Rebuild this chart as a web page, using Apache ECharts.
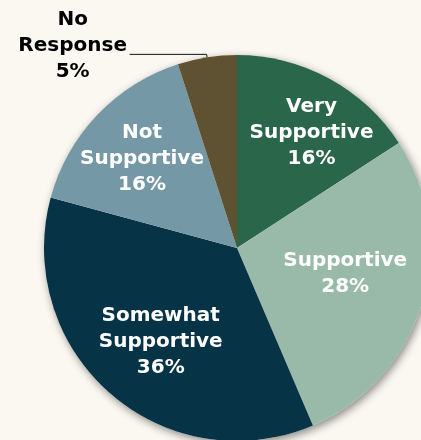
<!DOCTYPE html>
<html>
<head>
<meta charset="utf-8">
<script src="https://cdn.jsdelivr.net/npm/echarts@6/dist/echarts.min.js"></script>
<style>
  html, body { margin: 0; padding: 0; background: #FBF8F1; }
  #chart { width: 421px; height: 440px; }
</style>
</head>
<body>
<div id="chart"></div>
<script>
// Survey responses, clockwise from 12 o'clock
const categories = ['Very Supportive', 'Supportive', 'Somewhat Supportive', 'Not Supportive', 'No Response'];
const shares = [16, 28, 36, 16, 5];
const sliceColors = ['#2A664A', '#99BAA8', '#073346', '#7498A5', '#5F5233'];

// Nudges for the in-slice labels (dx, dy in px)
const labelNudges = [[27, -28], [13, -3], [-11, 19], [-23, -21], [0, 0]];

const chart = echarts.init(document.getElementById('chart'), null, { renderer: 'canvas' });

const center = [237, 248];
const radius = 193;
const font = '"DejaVu Sans", sans-serif';

chart.setOption({
  backgroundColor: '#FBF8F1',
  animation: false,
  series: [
    {
      // soft drop shadow under the whole disc
      type: 'pie',
      silent: true,
      z: 1,
      center: center,
      radius: radius,
      label: { show: false },
      labelLine: { show: false },
      itemStyle: {
        color: '#FBF8F1',
        shadowBlur: 8,
        shadowOffsetX: 2,
        shadowOffsetY: 3,
        shadowColor: 'rgba(0,0,0,0.45)'
      },
      data: [{ value: 1, name: '' }]
    },
    {
      type: 'pie',
      z: 2,
      center: center,
      radius: radius,
      startAngle: 90,
      clockwise: true,
      avoidLabelOverlap: false,
      itemStyle: { borderWidth: 0 },
      label: {
        show: true,
        position: 'inside',
        color: '#ffffff',
        fontFamily: font,
        fontWeight: 'bold',
        fontSize: 20,
        lineHeight: 26,
        formatter: p => p.name.replace(' ', '\n') + '\n' + p.value + '%'
      },
      labelLayout: function (params) {
        const n = labelNudges[params.dataIndex];
        if (params.dataIndex === 4) return {};
        return { dx: n[0], dy: n[1] };
      },
      data: categories.map((name, i) => {
        const item = { name: name, value: shares[i], itemStyle: { color: sliceColors[i] } };
        if (i === 4) {
          item.label = {
            position: 'outside',
            color: '#000000',
            distanceToLabelLine: 2,
            formatter: p => '{t|' + p.name.replace(' ', '\n') + '\n' + p.value + '%}',
            padding: [0, 0, 18, 0],
            rich: {
              t: {
                width: 110,
                align: 'center',
                color: '#000000',
                fontFamily: font,
                fontWeight: 'bold',
                fontSize: 20,
                lineHeight: 26
              }
            }
          };
          item.labelLine = {
            show: true,
            length: 3,
            length2: 77,
            smooth: false,
            lineStyle: { color: '#111111', width: 1 }
          };
        }
        return item;
      })
    }
  ]
});
</script>
</body>
</html>
